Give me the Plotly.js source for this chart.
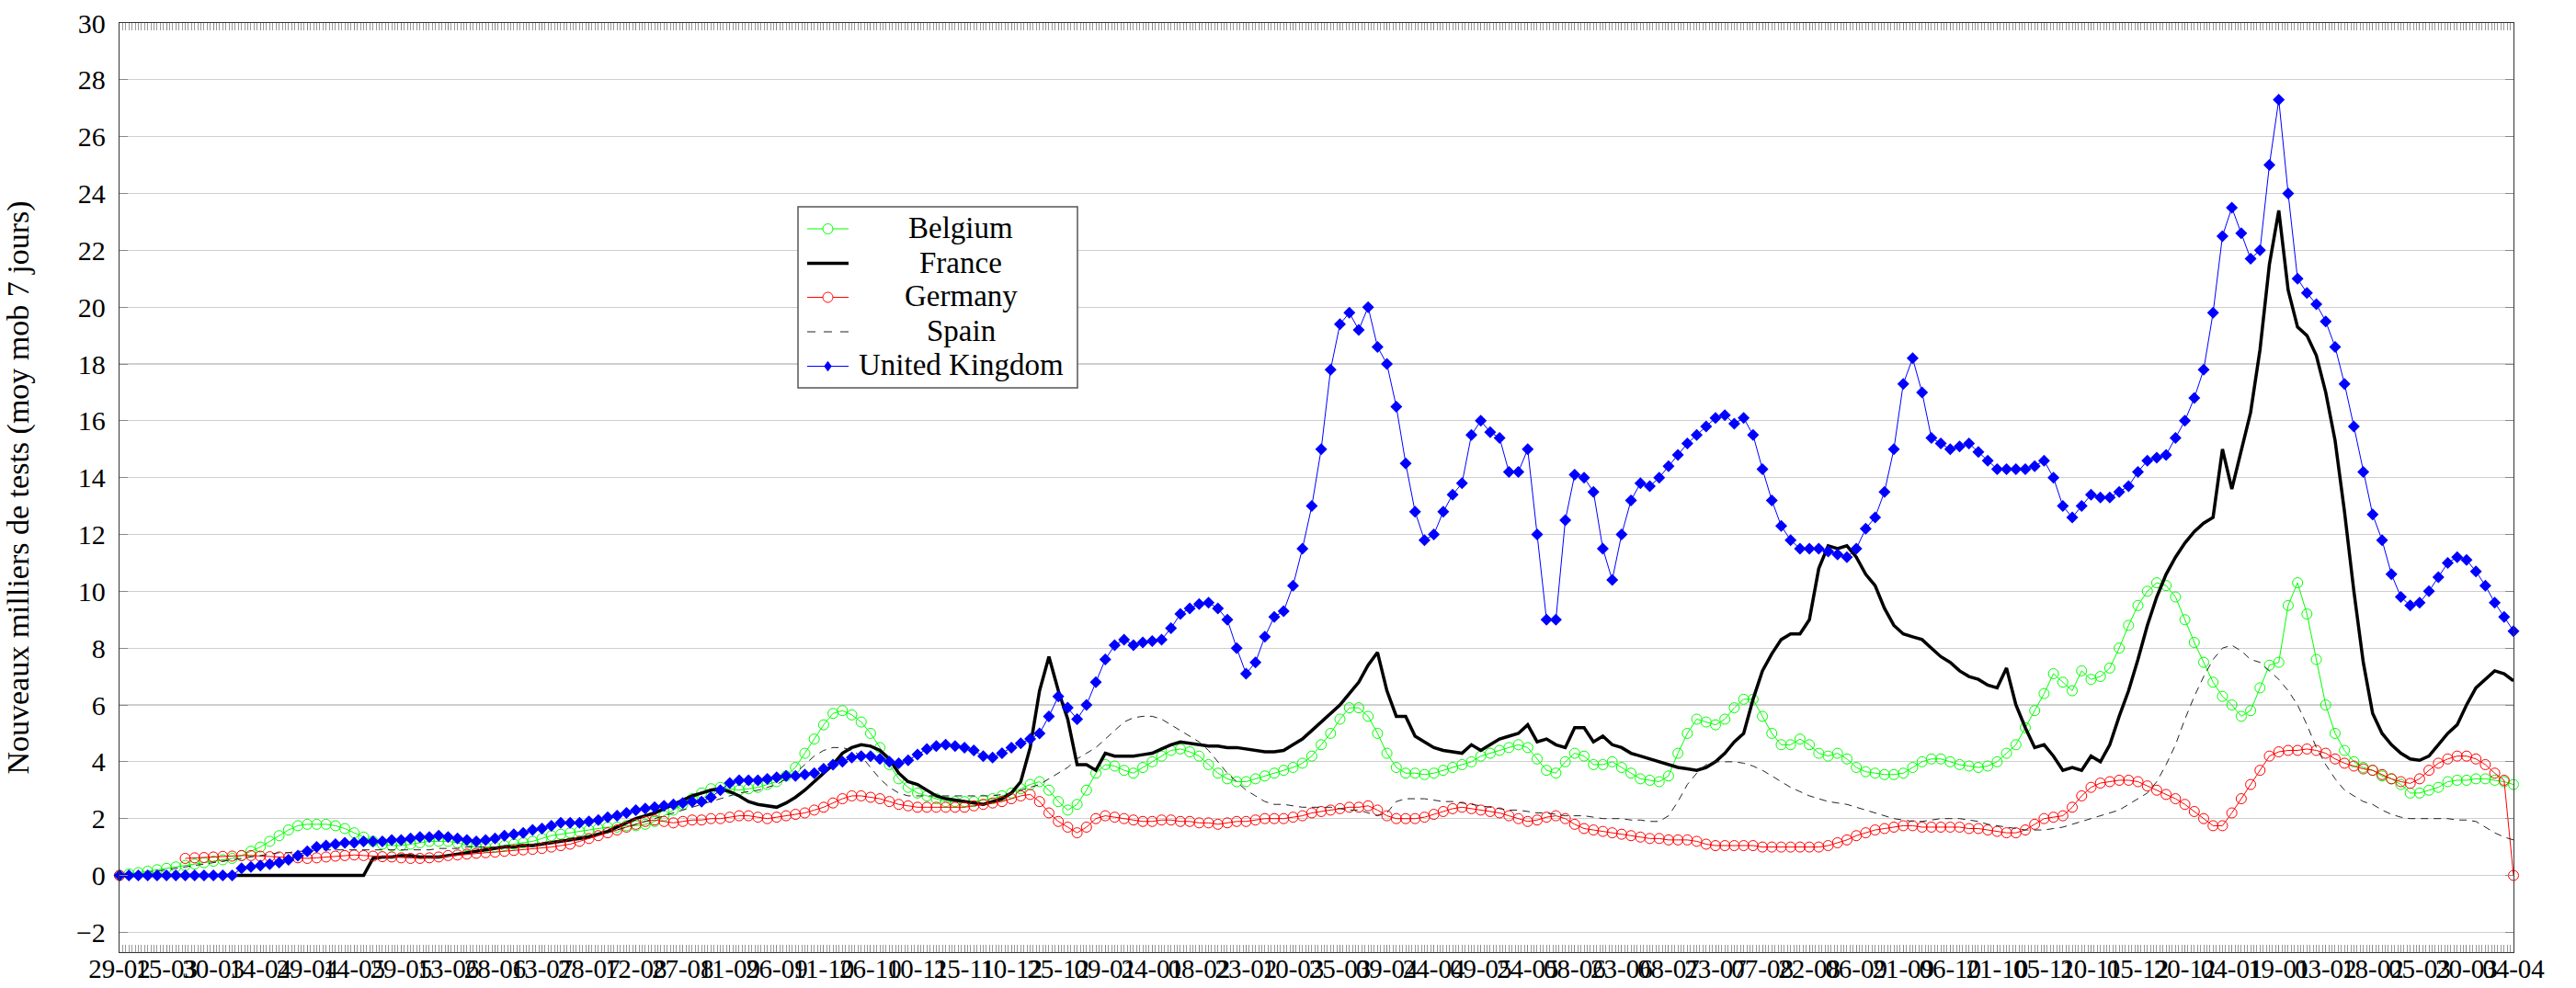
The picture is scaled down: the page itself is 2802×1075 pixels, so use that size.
<!DOCTYPE html>
<html><head><meta charset="utf-8">
<script src="https://cdn.plot.ly/plotly-3.0.1.min.js"></script>
<style>html,body{margin:0;padding:0;background:#fff}#chart{width:2802px;height:1075px}</style>
</head><body><div id="chart"></div>
<script>
// one value every 3 days, from 2020-02-29 to 2022-04-04
const startDate = [2020, 1, 29];
const stepDays = 3;

const belgium = [
0,0.05,0.1,0.15,0.2,0.25,0.3,0.35,0.4,0.45,
0.5,0.55,0.6,0.7,0.85,1.0,1.2,1.4,1.6,1.75,
1.8,1.8,1.8,1.75,1.65,1.5,1.35,1.2,1.1,1.05,
1.05,1.1,1.15,1.2,1.2,1.2,1.15,1.05,1.0,1.0,
1.0,1.05,1.1,1.15,1.2,1.3,1.4,1.45,1.5,1.55,
1.6,1.65,1.7,1.7,1.75,1.75,1.8,1.9,2.1,2.3,
2.5,2.7,2.9,3.05,3.1,3.05,3.0,3.05,3.1,3.2,
3.3,3.5,3.8,4.3,4.8,5.3,5.7,5.8,5.65,5.4,
5.0,4.5,3.9,3.4,3.1,2.9,2.8,2.7,2.6,2.6,
2.6,2.6,2.65,2.7,2.8,2.9,3.05,3.2,3.3,3.0,
2.6,2.3,2.5,3.0,3.6,3.9,3.85,3.7,3.6,3.8,
4.0,4.2,4.4,4.45,4.35,4.2,3.9,3.6,3.4,3.3,
3.3,3.4,3.5,3.6,3.7,3.8,3.95,4.2,4.6,5.0,
5.5,5.9,5.9,5.6,5.0,4.3,3.8,3.6,3.6,3.55,
3.6,3.7,3.8,3.9,4.0,4.2,4.3,4.4,4.5,4.6,
4.5,4.1,3.7,3.6,4.0,4.3,4.2,3.9,3.9,4.0,
3.8,3.6,3.4,3.35,3.3,3.5,4.3,5.0,5.5,5.4,
5.3,5.5,5.9,6.2,6.2,5.6,5.0,4.6,4.6,4.8,
4.6,4.3,4.2,4.3,4.1,3.8,3.65,3.6,3.55,3.55,
3.6,3.8,4.0,4.1,4.1,4.0,3.9,3.85,3.8,3.85,
4.0,4.3,4.6,5.2,5.8,6.4,7.1,6.8,6.5,7.2,
6.9,7.0,7.3,8.0,8.8,9.5,10.0,10.3,10.2,9.8,
9.0,8.2,7.5,6.8,6.3,6.0,5.6,5.8,6.6,7.4,
7.5,9.5,10.3,9.2,7.6,6.0,5.0,4.4,4.0,3.8,
3.7,3.5,3.4,3.2,2.9,2.9,3.0,3.1,3.3,3.35,
3.35,3.4,3.4,3.35,3.3,3.2];

const france = [
0,0,0,0,0,0,0,0,0,0,0,0,0,0,0,0,0,0,0,0,0,0,0,0,0,0,0,
0.6,0.65,0.65,0.7,0.7,0.65,0.65,0.65,
0.7,0.75,0.8,0.85,0.9,0.95,1.0,1.0,1.05,1.05,
1.1,1.15,1.2,1.25,1.3,1.35,1.45,1.55,1.7,1.85,
2.0,2.1,2.2,2.35,2.5,2.65,2.8,2.9,3.0,3.05,
2.95,2.8,2.6,2.5,2.45,2.4,2.55,2.75,3.0,3.3,
3.6,3.9,4.3,4.5,4.6,4.55,4.4,4.1,3.6,3.3,
3.2,3.0,2.8,2.7,2.65,2.6,2.55,2.5,2.6,2.7,
2.9,3.3,4.5,6.5,7.7,6.5,5.5,3.9,3.9,3.7,
4.3,4.2,4.2,4.2,4.25,4.3,4.45,4.6,4.7,4.65,
4.6,4.55,4.55,4.5,4.5,4.45,4.4,4.35,4.35,4.4,
4.6,4.8,5.1,5.4,5.7,6.0,6.4,6.8,7.4,7.85,
6.5,5.6,5.6,4.9,4.7,4.5,4.4,4.35,4.3,4.6,
4.4,4.6,4.8,4.9,5.0,5.3,4.7,4.8,4.6,4.5,
5.2,5.2,4.7,4.9,4.6,4.5,4.3,4.2,4.1,4.0,
3.9,3.8,3.75,3.7,3.8,4.0,4.3,4.7,5.0,6.2,
7.2,7.8,8.3,8.5,8.5,9.0,10.8,11.6,11.5,11.6,
11.2,10.6,10.2,9.4,8.8,8.5,8.4,8.3,8.0,7.7,
7.5,7.2,7.0,6.9,6.7,6.6,7.3,6.0,5.2,4.5,
4.6,4.2,3.7,3.8,3.7,4.2,4.0,4.6,5.6,6.5,
7.6,8.8,9.8,10.6,11.2,11.7,12.1,12.4,12.6,15.0,
13.6,14.9,16.3,18.5,21.5,23.4,20.6,19.3,19.0,18.3,
17.0,15.3,12.8,10.0,7.5,5.7,5.0,4.6,4.3,4.1,
4.05,4.2,4.6,5.0,5.3,6.0,6.6,6.9,7.2,7.1,6.85];

const germany = [
0,null,null,null,null,null,null,0.6,0.62,0.63,
0.65,0.67,0.68,0.7,0.7,0.68,0.66,0.65,0.63,0.62,
0.6,0.62,0.65,0.68,0.7,0.72,0.7,0.68,0.66,0.65,
0.62,0.6,0.6,0.62,0.65,0.7,0.72,0.75,0.78,0.8,
0.82,0.85,0.88,0.9,0.92,0.95,1.0,1.05,1.1,1.2,
1.3,1.4,1.5,1.6,1.7,1.8,1.9,1.95,1.9,1.85,
1.9,1.95,1.95,2.0,2.0,2.05,2.1,2.1,2.05,2.0,
2.05,2.1,2.15,2.2,2.3,2.4,2.55,2.7,2.8,2.8,
2.75,2.7,2.6,2.5,2.45,2.4,2.4,2.4,2.4,2.4,
2.4,2.45,2.5,2.55,2.6,2.7,2.8,2.85,2.6,2.2,
1.9,1.7,1.5,1.7,2.0,2.1,2.05,2.0,1.95,1.9,
1.9,1.95,1.95,1.9,1.9,1.85,1.85,1.8,1.85,1.9,
1.9,1.95,2.0,2.0,2.0,2.05,2.1,2.2,2.25,2.3,
2.35,2.4,2.4,2.45,2.3,2.1,2.0,2.0,2.0,2.05,
2.15,2.25,2.35,2.4,2.35,2.3,2.25,2.2,2.1,2.0,
1.9,1.95,2.05,2.1,2.0,1.8,1.65,1.6,1.55,1.5,
1.45,1.4,1.35,1.3,1.3,1.25,1.25,1.25,1.2,1.1,
1.05,1.05,1.05,1.05,1.05,1.0,1.0,1.0,1.0,1.0,
1.0,1.0,1.05,1.15,1.25,1.4,1.5,1.6,1.65,1.7,
1.75,1.75,1.7,1.7,1.7,1.7,1.7,1.65,1.65,1.6,
1.55,1.5,1.5,1.6,1.8,2.0,2.05,2.1,2.4,2.8,
3.1,3.25,3.3,3.35,3.35,3.3,3.15,3.0,2.85,2.7,
2.5,2.25,2.0,1.75,1.75,2.2,2.7,3.2,3.7,4.2,
4.35,4.4,4.4,4.45,4.4,4.3,4.1,3.95,3.85,3.75,
3.7,3.55,3.4,3.3,3.24,3.4,3.7,3.95,4.1,4.2,
4.2,4.1,3.9,3.6,3.35,0];

const spain = [
0,0,0.05,0.1,0.15, 0.2,0.25,0.3,0.35,0.4,
0.45,0.5,0.55,0.6,0.65, 0.7,0.75,0.8,0.8,0.85,
0.85,0.9,0.9,0.9,0.9, 0.9,0.9,0.9,0.9,0.9,
0.9,0.9,0.9,0.9,0.95, 0.95,0.95,1.0,1.0,1.0,
1.0,1.05,1.05,1.1,1.1, 1.15,1.2,1.25,1.3,1.35,
1.4,1.45,1.5,1.6,1.7, 1.8,1.9,2.0,2.1,2.2,
2.3,2.4,2.5,2.6,2.7, 2.8,2.9,2.95,3.0,3.1,
3.2,3.4,3.6,3.9,4.2, 4.4,4.5,4.5,4.4,4.2,
3.8,3.4,3.1,2.9,2.8, 2.8,2.8,2.8,2.8,2.8,
2.8,2.8,2.8,2.8,2.85, 2.9,3.0,3.1,3.2,3.4,
3.6,3.8,4.1,4.3,4.5, 4.8,5.1,5.4,5.55,5.6,
5.6,5.5,5.3,5.1,4.9, 4.7,4.4,4.0,3.6,3.3,
3.0,2.8,2.6,2.5,2.5, 2.45,2.4,2.4,2.4,2.4,
2.35,2.3,2.3,2.2,2.1, 2.2,2.6,2.7,2.7,2.7,
2.65,2.6,2.6,2.55,2.5, 2.45,2.4,2.35,2.3,2.3,
2.25,2.2,2.2,2.15,2.1, 2.1,2.1,2.05,2.0,2.0,
2.0,1.95,1.95,1.9,1.9, 2.1,2.6,3.2,3.6,3.9,
4.0,4.0,4.0,3.95,3.85, 3.7,3.5,3.3,3.1,2.95,
2.8,2.7,2.6,2.55,2.5, 2.4,2.3,2.2,2.1,2.0,
1.95,1.9,1.9,1.95,2.0, 2.0,2.0,1.95,1.9,1.8,
1.75,1.7,1.65,1.6,1.6, 1.6,1.65,1.7,1.8,1.9,
2.0,2.1,2.2,2.3,2.5, 2.7,2.9,3.3,3.9,4.6,
5.5,6.3,7.0,7.6,8.0, 8.1,7.9,7.6,7.5,7.2,
6.9,6.5,6.0,5.3,4.5, 3.9,3.4,3.0,2.8,2.6,
2.5,2.3,2.15,2.05,2.0, 2.0,2.0,2.0,2.0,1.95,
1.95,1.9,1.7,1.5,1.35, 1.25];

const unitedKingdom = [
0,0,0,0,0,0,0,0,0,0,0,0,0,
0.25,0.3,0.35,0.4,0.45,0.55,0.7,0.85,1.0,1.05,1.1,1.15,
1.15,1.2,1.2,1.2,1.25,1.25,1.3,1.35,1.35,1.4,
1.35,1.3,1.25,1.2,1.25,1.3,1.4,1.45,1.5,1.6,
1.65,1.75,1.85,1.85,1.85,1.9,1.95,2.05,2.1,2.2,
2.3,2.35,2.4,2.45,2.5,2.55,2.6,2.6,2.75,3.0,
3.25,3.35,3.35,3.35,3.4,3.45,3.5,3.5,3.55,3.6,
3.75,3.9,4.0,4.15,4.2,4.2,4.1,4.0,3.95,4.05,
4.25,4.45,4.55,4.6,4.55,4.5,4.4,4.2,4.15,4.3,
4.5,4.65,4.8,5.0,5.6,6.3,5.9,5.5,6.0,6.8,
7.6,8.1,8.3,8.1,8.2,8.25,8.3,8.7,9.2,9.4,
9.55,9.6,9.4,9.0,8.0,7.1,7.5,8.4,9.1,9.3,
10.2,11.5,13.0,15.0,17.8,19.4,19.8,19.2,20.0,18.6,
18.0,16.5,14.5,12.8,11.8,12.0,12.8,13.4,13.8,15.5,
16.0,15.6,15.4,14.2,14.2,15.0,12.0,9.0,9.0,12.5,
14.1,14.0,13.5,11.5,10.4,12.0,13.2,13.8,13.7,14.0,
14.4,14.8,15.2,15.5,15.8,16.1,16.2,15.9,16.1,15.5,
14.3,13.2,12.3,11.8,11.5,11.5,11.5,11.4,11.3,11.2,
11.5,12.2,12.6,13.5,15.0,17.3,18.2,17.0,15.4,15.2,
15.0,15.1,15.2,14.9,14.6,14.3,14.3,14.3,14.3,14.4,
14.6,14.0,13.0,12.6,13.0,13.4,13.3,13.3,13.5,13.7,
14.2,14.6,14.7,14.8,15.4,16.0,16.8,17.8,19.8,22.5,
23.5,22.6,21.7,22.0,25.0,27.3,24.0,21.0,20.5,20.1,
19.5,18.6,17.3,15.8,14.2,12.7,11.8,10.6,9.8,9.5,
9.6,10.0,10.5,11.0,11.2,11.1,10.7,10.2,9.6,9.1,8.6];

const tickLabels = ["29-02","15-03","30-03","14-04","29-04","14-05","29-05","13-06","28-06","13-07",
"28-07","12-08","27-08","11-09","26-09","11-10","26-10","10-11","25-11","10-12",
"25-12","09-01","24-01","08-02","23-02","10-03","25-03","09-04","24-04","09-05",
"24-05","08-06","23-06","08-07","23-07","07-08","22-08","06-09","21-09","06-10",
"21-10","05-11","20-11","05-12","20-12","04-01","19-01","03-02","18-02","05-03",
"20-03","04-04"];
const tickStepDays = 15;

const seriesNames = ["Belgium", "France", "Germany", "Spain", "United Kingdom"];
const seriesValues = [belgium, france, germany, spain, unitedKingdom];

const DAY = 86400000;
const t0 = Date.UTC(startDate[0], startDate[1], startDate[2]);
const iso = t => new Date(t).toISOString().slice(0, 10);
const xDates = n => Array.from({length: n}, (_, i) => iso(t0 + i * stepDays * DAY));
const tickVals = tickLabels.map((_, k) => iso(t0 + k * tickStepDays * DAY));
const xEnd = iso(t0 + (tickLabels.length - 1) * tickStepDays * DAY);

const serif = "Liberation Serif";

const styles = [
  {mode: "lines+markers", line: {color: "#00ff00", width: 1},
   marker: {symbol: "circle-open", size: 11, color: "#00ff00", line: {width: 1}}},
  {mode: "lines", line: {color: "#000000", width: 3.5}},
  {mode: "lines+markers", line: {color: "#ff0000", width: 1},
   marker: {symbol: "circle-open", size: 11, color: "#ff0000", line: {width: 1}}},
  {mode: "lines", line: {color: "#222222", width: 1, dash: "8px,6px"}},
  {mode: "lines+markers", line: {color: "#0000ff", width: 1},
   marker: {symbol: "diamond", size: 10, color: "#0000ff", line: {width: 0}}}
];

const traces = seriesNames.map((name, s) => Object.assign({
  name, y: seriesValues[s], x: xDates(seriesValues[s].length),
  cliponaxis: false, connectgaps: false, hoverinfo: "skip", showlegend: false
}, styles[s]));

// ---- legend box drawn in paper space (pgfplots style, centred labels) ----
const W = 2802, H = 1075, mL = 130, mR = 68, mT = 25, mB = 39;
const pw = W - mL - mR, ph = H - mT - mB;
const px = v => (v - mL) / pw;
const py = v => 1 - (v - mT) / ph;
const legBox = {x0: 868, x1: 1172, y0: 225, y1: 422};
const legRowY = [249, 286.5, 323.5, 361, 398.5];
const legLine = {x0: 878, x1: 923, mx: 900.5};
const legTextX = 1045;

const shapes = [{type: "rect", xref: "paper", yref: "paper",
  x0: px(legBox.x0), x1: px(legBox.x1), y0: py(legBox.y1), y1: py(legBox.y0),
  fillcolor: "#ffffff", line: {color: "#555", width: 1.5}, layer: "above"}];
const annotations = [];
seriesNames.forEach((name, s) => {
  const st = styles[s];
  const yy = py(legRowY[s]);
  shapes.push({type: "line", xref: "paper", yref: "paper", layer: "above",
    x0: px(legLine.x0), x1: px(legLine.x1), y0: yy, y1: yy,
    line: {color: st.line.color, width: st.line.width, dash: st.line.dash ? "dash" : "solid"}});
  if (st.marker) {
    const r = st.marker.size / 2;
    const common = {xref: "paper", yref: "paper", xsizemode: "pixel", ysizemode: "pixel",
      xanchor: px(legLine.mx), yanchor: yy, layer: "above"};
    if (st.marker.symbol === "diamond") {
      const d = r * 1.15;
      shapes.push(Object.assign({type: "path", path: `M 0 ${d} L ${r*0.85} 0 L 0 ${-d} L ${-r*0.85} 0 Z`,
        fillcolor: st.marker.color, line: {width: 0}}, common));
    } else {
      shapes.push(Object.assign({type: "circle", x0: -r, x1: r, y0: -r, y1: r,
        fillcolor: "#ffffff", line: {color: st.marker.color, width: 1}}, common));
    }
  }
  annotations.push({xref: "paper", yref: "paper", x: px(legTextX), y: py(legRowY[s] - 1),
    xanchor: "center", yanchor: "middle", showarrow: false, text: name,
    font: {family: serif, size: 33, color: "#000"}});
});

const layout = {
  width: W, height: H,
  margin: {l: mL, r: mR, t: mT, b: mB, pad: 0},
  paper_bgcolor: "#ffffff", plot_bgcolor: "#ffffff",
  font: {family: serif, color: "#000"},
  showlegend: false,
  shapes, annotations,
  xaxis: {
    type: "date", range: [iso(t0), xEnd],
    tickmode: "array", tickvals: tickVals, ticktext: tickLabels, tickangle: 0,
    tickfont: {family: serif, size: 29, color: "#000"},
    ticks: "inside", ticklen: 8, tickcolor: "#888", tickwidth: 1,
    minor: {dtick: DAY, tick0: iso(t0), ticks: "inside", ticklen: 8, tickcolor: "#999", tickwidth: 1, showgrid: false},
    showline: true, linecolor: "#333", linewidth: 1.2, mirror: "ticks",
    showgrid: false, zeroline: false, ticklabelstandoff: -8
  },
  yaxis: {
    range: [-2.7, 30], tickmode: "linear", tick0: -2, dtick: 2,
    tickfont: {family: serif, size: 30, color: "#000"},
    ticks: "inside", ticklen: 9, tickcolor: "#888", tickwidth: 1,
    showline: true, linecolor: "#333", linewidth: 1.2, mirror: "ticks",
    showgrid: true, gridcolor: "#cfcfcf", gridwidth: 1.2, zeroline: false,
    ticklabelstandoff: 8,
    title: {text: "Nouveaux milliers de tests (moy mob 7 jours)", font: {family: serif, size: 34, color: "#000"}, standoff: 41},
    automargin: false
  }
};

Plotly.newPlot("chart", traces, layout, {staticPlot: true, displayModeBar: false});
</script>
</body></html>
